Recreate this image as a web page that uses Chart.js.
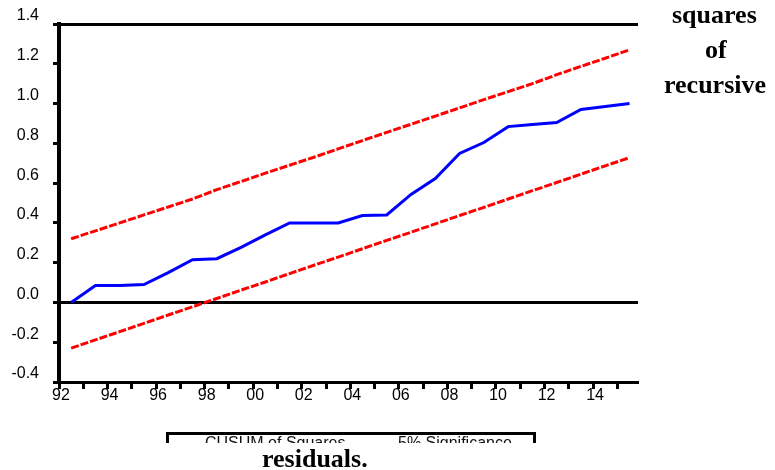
<!DOCTYPE html>
<html>
<head>
<meta charset="utf-8">
<script src="https://cdn.jsdelivr.net/npm/chart.js@4/dist/chart.umd.min.js"></script>
<style>
  html, body { margin: 0; padding: 0; background: #fff; }
  #wrap { position: relative; width: 775px; height: 470px; overflow: hidden; }
  #chart { position: absolute; left: 0; top: 0; }
  .note {
    position: absolute;
    font-family: "Liberation Serif", "DejaVu Serif", serif;
    font-weight: bold;
    font-size: 26px;
    color: #000;
    white-space: nowrap;
  }
  #legendBox {
    position: absolute;
    left: 166px; top: 432px;
    width: 364px; height: 8px;
    border: 3px solid #000;
    border-bottom: none;
    overflow: hidden;
    font-family: "Liberation Sans", Arial, sans-serif;
    font-size: 16px;
    line-height: 16px;
    color: #111;
  }
  #legendBox span { position: absolute; top: 0; }
</style>
</head>
<body>
<div id="wrap">
  <canvas id="chart" width="775" height="470"></canvas>
  <div class="note" style="left:672px; top:0px;">squares</div>
  <div class="note" style="left:705px; top:35px;">of</div>
  <div class="note" style="left:664px; top:70px;">recursive</div>
  <div id="legendBox">
    <span style="left:36px;">CUSUM of Squares</span>
    <span style="left:229px;">5% Significance</span>
  </div>
  <div class="note" style="left:262px; top:444px;">residuals.</div>
</div>
<script>
// observation years (plotted at mid-year)
const years = [1992, 1993, 1994, 1995, 1996, 1997, 1998, 1999, 2000, 2001, 2002, 2003,
               2004, 2005, 2006, 2007, 2008, 2009, 2010, 2011, 2012, 2013, 2014, 2015];
const cusumSq = [0.00, 0.085, 0.085, 0.09, 0.15, 0.215, 0.22, 0.277, 0.34, 0.40, 0.40, 0.40,
                 0.437, 0.44, 0.543, 0.623, 0.749, 0.804, 0.884, 0.895, 0.905, 0.97, 0.985, 1.00];
const upper5 = [0.32, 0.36, 0.40, 0.44, 0.48, 0.52, 0.567, 0.608, 0.65, 0.69, 0.73, 0.772,
                0.814, 0.855, 0.896, 0.937, 0.978, 1.02, 1.06, 1.10, 1.145, 1.187, 1.228, 1.27];
const lower5 = [-0.23, -0.188, -0.147, -0.105, -0.063, -0.022, 0.02, 0.062, 0.103, 0.145, 0.187, 0.228,
                0.27, 0.312, 0.353, 0.395, 0.437, 0.478, 0.52, 0.562, 0.603, 0.645, 0.687, 0.728];

const xTicks = years;
const xLabels = ['92', '', '94', '', '96', '', '98', '', '00', '', '02', '',
                 '04', '', '06', '', '08', '', '10', '', '12', '', '14', ''];
const yTicks = [-0.4, -0.2, 0.0, 0.2, 0.4, 0.6, 0.8, 1.0, 1.2, 1.4];

const pts = arr => arr.map((v, i) => ({ x: years[i] + 0.5, y: v }));
const tickFont = { family: 'Liberation Sans', size: 16 };

new Chart(document.getElementById('chart').getContext('2d'), {
    type: 'line',
    data: {
        datasets: [
            { label: 'CUSUM of Squares', data: pts(cusumSq), borderColor: '#0000ff',
              borderWidth: 3, pointRadius: 0, tension: 0 },
            { label: '5% Significance', data: pts(upper5), borderColor: '#ff0000',
              borderWidth: 3, borderDash: [8, 2], pointRadius: 0, tension: 0 },
            { label: '5% Significance', data: pts(lower5), borderColor: '#ff0000',
              borderWidth: 3, borderDash: [8, 2], pointRadius: 0, tension: 0 }
        ]
    },
    options: {
        responsive: false,
        animation: false,
        layout: { padding: { top: 24, right: 137, left: 0, bottom: 0 } },
        plugins: { legend: { display: false }, tooltip: { enabled: false } },
        scales: {
            x: {
                type: 'linear',
                min: 1992,
                max: 2015.85,
                afterBuildTicks: s => { s.ticks = xTicks.map(v => ({ value: v })); },
                afterFit: s => { s.height = 88; },
                border: { display: true, color: '#000', width: 3 },
                grid: { drawOnChartArea: false, tickColor: '#000', tickWidth: 3, tickLength: 7 },
                ticks: {
                    autoSkip: false,
                    maxRotation: 0,
                    padding: -3,
                    labelOffset: 2,
                    color: '#000',
                    font: tickFont,
                    callback: (v, i) => xLabels[i]
                }
            },
            y: {
                min: -0.4,
                max: 1.4,
                afterBuildTicks: s => { s.ticks = yTicks.map(v => ({ value: v })); },
                afterFit: s => { s.width = 59; },
                border: { display: true, color: '#000', width: 4 },
                grid: {
                    color: c => (c.tick && (c.tick.value === 0 || c.tick.value === 1.4)) ? '#000' : 'rgba(0,0,0,0)',
                    lineWidth: 3,
                    tickColor: '#000',
                    tickWidth: 3,
                    tickLength: 6
                },
                ticks: {
                    padding: 14,
                    labelOffset: -8,
                    color: '#000',
                    font: tickFont,
                    callback: v => v.toFixed(1)
                }
            }
        }
    }
});
</script>
</body>
</html>
